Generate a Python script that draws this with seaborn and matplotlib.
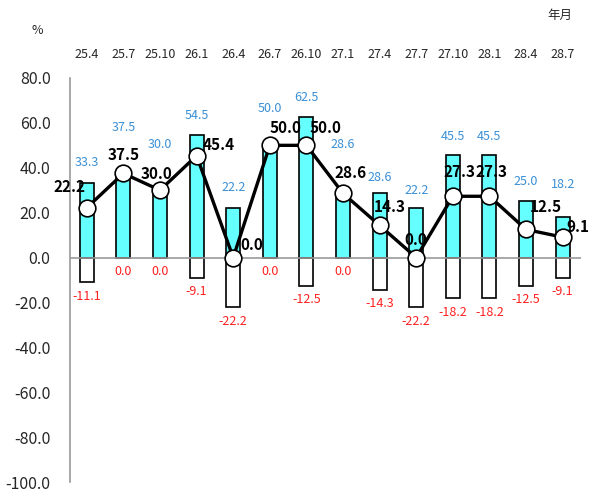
import numpy as np
import pandas as pd
import matplotlib
matplotlib.use('Agg')
import matplotlib.pyplot as plt
import seaborn as sns

# data
periods = ['25.4', '25.7', '25.10', '26.1', '26.4', '26.7', '26.10',
           '27.1', '27.4', '27.7', '27.10', '28.1', '28.4', '28.7']
up_share = [33.3, 37.5, 30.0, 54.5, 22.2, 50.0, 62.5,
            28.6, 28.6, 22.2, 45.5, 45.5, 25.0, 18.2]
down_share = [-11.1, 0.0, 0.0, -9.1, -22.2, 0.0, -12.5,
              0.0, -14.3, -22.2, -18.2, -18.2, -12.5, -9.1]
di_values = [22.2, 37.5, 30.0, 45.4, 0.0, 50.0, 50.0,
             28.6, 14.3, 0.0, 27.3, 27.3, 12.5, 9.1]
y_ticks = [80, 60, 40, 20, 0, -20, -40, -60, -80, -100]

# label placement (pixels): DI labels vs markers, blue labels above bars
di_label_offsets = [(-17, 21), (0, 18), (-3, 16), (22, 11), (19, 13), (16, 17), (19, 17),
                    (8, 20), (10, 18), (0, 18), (7, 24), (2, 24), (20, 22), (15, 10)]
up_label_lift = [20, 46, 46, 20, 20, 37, 20, 49, 16, 17, 19, 19, 20, 32]

df = pd.DataFrame({'period': periods, 'up': up_share,
                   'down': down_share, 'di': di_values})

sns.set_style('white')
plt.rcParams['font.family'] = ['Noto Sans CJK JP', 'DejaVu Sans']

fig = plt.figure(figsize=(5.9, 4.93), dpi=100)
ax = fig.add_axes([0.1186, 0.0223, 0.866, 0.8195])

sns.barplot(data=df, x='period', y='up', color='#66ffff', edgecolor='black',
            linewidth=1.2, width=0.38, saturation=1, ax=ax)
sns.barplot(data=df, x='period', y='down', color='white', edgecolor='black',
            linewidth=1.2, width=0.38, saturation=1, ax=ax)
sns.pointplot(data=df, x='period', y='di', color='black', markers='o',
              markersize=12, linewidth=2.4, ax=ax)
for ln in ax.lines:
    ln.set_markerfacecolor('white')
    ln.set_markeredgecolor('black')
    ln.set_markeredgewidth(1.2)
    ln.set_zorder(5)

ax.axhline(0, color='#999999', lw=1.2, zorder=1)

for i, (u, d, v) in enumerate(zip(up_share, down_share, di_values)):
    ax.annotate(f'{u:.1f}', (i, u), xytext=(0, up_label_lift[i]), textcoords='offset pixels',
                ha='center', va='center', color='#3a8fd5', fontsize=9)
    ax.annotate(f'{d:.1f}', (i, min(d, 0)), xytext=(0, -14), textcoords='offset pixels',
                ha='center', va='center', color='#ff2020', fontsize=9)
    ax.annotate(f'{v:.1f}', (i, v), xytext=di_label_offsets[i], textcoords='offset pixels',
                ha='center', va='center', color='black', fontsize=11,
                fontweight='bold', zorder=6)

ax.set_ylim(-100, 80)
ax.set_xlim(-0.46, 13.5)
ax.set_yticks(y_ticks)
ax.set_yticklabels([f'{t:.1f}' for t in y_ticks], fontsize=11.5)
ax.xaxis.tick_top()
ax.tick_params(axis='x', length=0, pad=12, labelsize=9)
ax.tick_params(axis='y', length=0, pad=14)
ax.set_xlabel('')
ax.set_ylabel('')
for s in ['top', 'right', 'bottom']:
    ax.spines[s].set_visible(False)
ax.spines['left'].set_color('#999999')
ax.spines['left'].set_linewidth(1.2)

fig.text(37 / 590, 1 - 30 / 493, '%', ha='center', va='center', fontsize=9)
fig.text(560 / 590, 1 - 15 / 493, '年月', ha='center', va='center', fontsize=9)

fig.savefig('out.png', dpi=100)
